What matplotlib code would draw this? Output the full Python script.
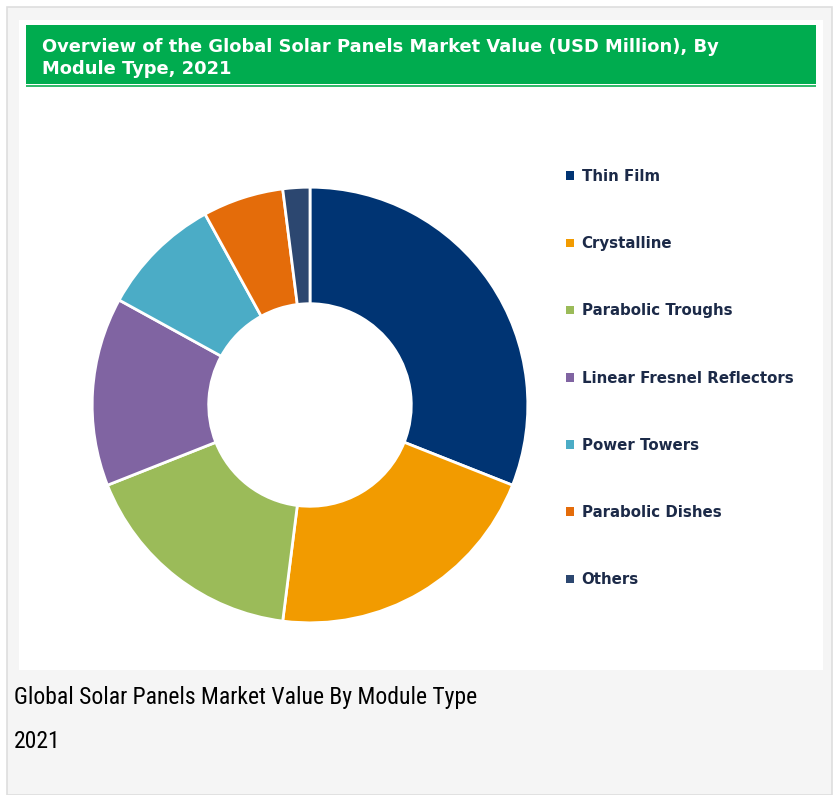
import matplotlib
matplotlib.use("Agg")
import matplotlib.pyplot as plt
from matplotlib.patches import Rectangle

# data (share of market value, %)
categories = ["Thin Film", "Crystalline", "Parabolic Troughs",
              "Linear Fresnel Reflectors", "Power Towers",
              "Parabolic Dishes", "Others"]
shares = [31, 21, 17, 14, 9, 6, 2]
colors = ["#003473", "#f29b00", "#9bbb59", "#8064a2",
          "#4bacc6", "#e46c0a", "#2c4770"]

title = "Overview of the Global Solar Panels Market Value (USD Million), By\nModule Type, 2021"
caption = "Global Solar Panels Market Value By Module Type\n2021"

W, H = 836, 795
fig = plt.figure(figsize=(W / 100, H / 100), dpi=100)
fig.patch.set_facecolor("white")


def px_rect(x0, y0, x1, y1, **kw):
    # rectangle given in pixel coords (origin top-left), kept behind the axes
    fig.patches.append(Rectangle((x0 / W, 1 - y1 / H), (x1 - x0) / W, (y1 - y0) / H,
                                 transform=fig.transFigure, figure=fig,
                                 zorder=-5, **kw))


# outer card + white chart panel
px_rect(7, 7, 832, 795, facecolor="#f5f5f5", edgecolor="#dedede", linewidth=1.2)
px_rect(19, 20, 823, 670, facecolor="white", edgecolor="none")
# green header bar with thin rule under it
px_rect(26, 25, 816, 84, facecolor="#00ac4f", edgecolor="none")
px_rect(26, 85, 816, 86.5, facecolor="#33bb6c", edgecolor="none")

fig.text(42 / W, 1 - 58 / H, title, color="white", fontsize=12.9,
         fontweight="bold", family="DejaVu Sans", va="center", ha="left",
         linespacing=1.3)

fig.text(14 / W, 1 - 719.5 / H, caption, color="black", fontsize=17,
         family=["Roboto Condensed", "Roboto"], va="center", ha="left",
         linespacing=2.15)

# donut: centre (310, 405) px, outer radius 220 px
cx, cy, r = 310, 405, 220
ax = fig.add_axes([(cx - r) / W, 1 - (cy + r) / H, 2 * r / W, 2 * r / H])
wedges, _ = ax.pie(shares, colors=colors, startangle=90, counterclock=False,
                   radius=1, wedgeprops=dict(width=0.535, edgecolor="white",
                                             linewidth=2))
ax.set_xlim(-1.01, 1.01)
ax.set_ylim(-1.01, 1.01)
ax.set_aspect("equal")
ax.axis("off")

leg = fig.legend(wedges, categories, loc="upper left",
                 bbox_to_anchor=(566 / W, 1 - 169 / H), frameon=False,
                 prop=dict(family="DejaVu Sans", weight="bold", size=10.8),
                 handlelength=0.5, handleheight=0.5, handletextpad=0.55,
                 labelspacing=3.48, borderpad=0, borderaxespad=0)
for t in leg.get_texts():
    t.set_color("#1c2a48")
for h in leg.legend_handles:
    h.set_edgecolor("none")

fig.savefig("out.png", dpi=100)
